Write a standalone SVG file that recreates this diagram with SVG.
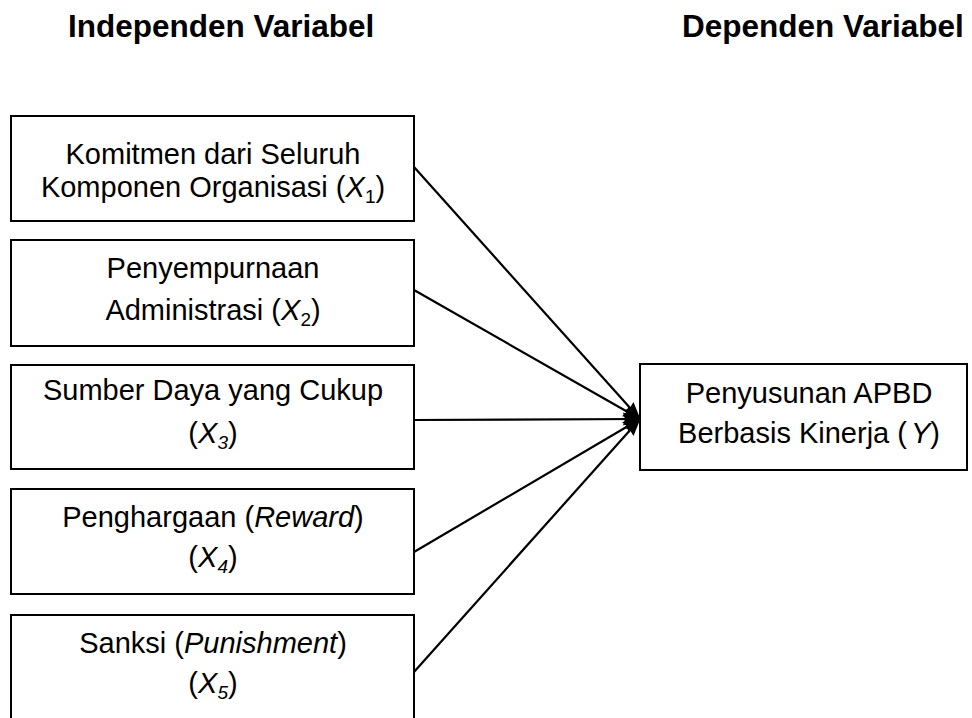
<svg xmlns="http://www.w3.org/2000/svg" width="972" height="718" viewBox="0 0 972 718">
<style>
text { font-family: "Liberation Sans", Arial, sans-serif; fill: #000; }
.hdr { font-size: 31.5px; font-weight: bold; }
.lbl { font-size: 29px; text-anchor: middle; }
.box { fill: #fff; stroke: #000; stroke-width: 2; }
.con { stroke: #000; stroke-width: 2.2; fill: none; marker-end: url(#ah); }
.it { font-style: italic; }
.sub { font-size: 19px; }
</style>
<defs>
<marker id="ah" markerUnits="userSpaceOnUse" markerWidth="18" markerHeight="14" refX="17" refY="7" orient="auto">
<path d="M0,0.5 L18,7 L0,13.5 L2,7 Z" fill="#000"/>
</marker>
</defs>
<rect width="972" height="718" fill="#fff"/>
<text class="hdr" x="68" y="37">Independen Variabel</text>
<text class="hdr" x="682" y="37">Dependen Variabel</text>

<g id="connectors">
<line class="con" x1="414" y1="167" x2="640" y2="419"/>
<line class="con" x1="414" y1="290" x2="640" y2="419"/>
<line class="con" x1="414" y1="420" x2="640" y2="419"/>
<line class="con" x1="414" y1="552" x2="640" y2="419"/>
<line class="con" x1="414" y1="672" x2="640" y2="419"/>
</g>

<g id="x1">
<rect class="box" x="11" y="116" width="403" height="105"/>
<text class="lbl" x="213" y="164">Komitmen dari Seluruh</text>
<text class="lbl" x="213" y="197">Komponen Organisasi (<tspan class="it">X</tspan><tspan class="sub" dy="6">1</tspan><tspan dy="-6">)</tspan></text>
</g>
<g id="x2">
<rect class="box" x="11" y="240" width="403" height="106"/>
<text class="lbl" x="213" y="278">Penyempurnaan</text>
<text class="lbl" x="213" y="320">Administrasi (<tspan class="it">X</tspan><tspan class="sub" dy="6">2</tspan><tspan dy="-6">)</tspan></text>
</g>
<g id="x3">
<rect class="box" x="11" y="365" width="403" height="104"/>
<text class="lbl" x="213" y="400">Sumber Daya yang Cukup</text>
<text class="lbl" x="213" y="443">(<tspan class="it">X</tspan><tspan class="sub it" dy="6">3</tspan><tspan dy="-6">)</tspan></text>
</g>
<g id="x4">
<rect class="box" x="11" y="489" width="403" height="105"/>
<text class="lbl" x="213" y="527">Penghargaan (<tspan class="it">Reward</tspan>)</text>
<text class="lbl" x="213" y="567">(<tspan class="it">X</tspan><tspan class="sub it" dy="6">4</tspan><tspan dy="-6">)</tspan></text>
</g>
<g id="x5">
<rect class="box" x="11" y="615" width="403" height="130"/>
<text class="lbl" x="213" y="653">Sanksi (<tspan class="it">Punishment</tspan>)</text>
<text class="lbl" x="213" y="693">(<tspan class="it">X</tspan><tspan class="sub it" dy="6">5</tspan><tspan dy="-6">)</tspan></text>
</g>
<g id="y">
<rect class="box" x="640" y="364" width="327" height="106"/>
<text class="lbl" x="809" y="403">Penyusunan APBD</text>
<text class="lbl" x="809" y="443">Berbasis Kinerja (<tspan class="it" dx="4">Y</tspan>)</text>
</g>
</svg>
